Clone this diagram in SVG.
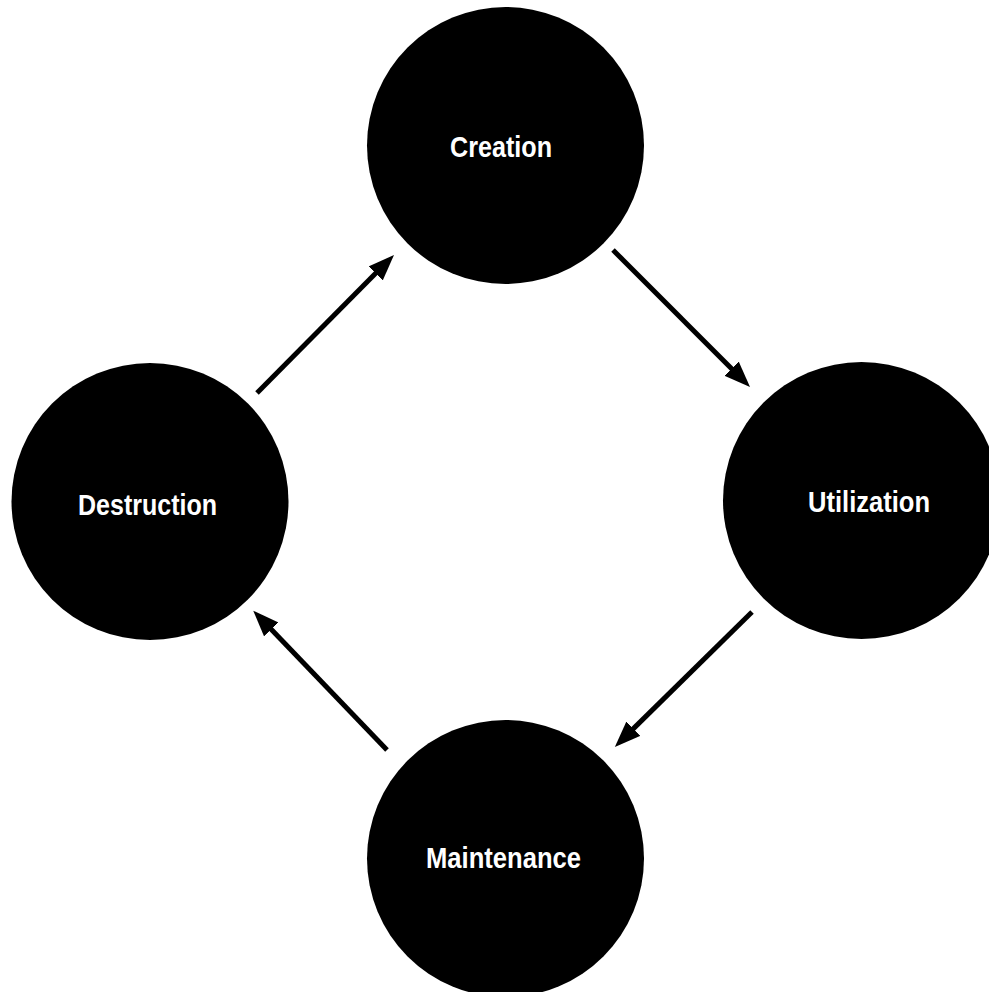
<svg xmlns="http://www.w3.org/2000/svg" width="989" height="992" viewBox="0 0 989 992">
  <style>
    .node circle { fill: #000; }
    .node text { fill: #fff; font-family: "Liberation Sans Narrow", "Liberation Sans", "DejaVu Sans Condensed", sans-serif; font-weight: bold; font-size: 30px; text-anchor: middle; }
    .edge { stroke: #000; stroke-width: 5; fill: none; marker-end: url(#arrow); }
  </style>
  <defs>
    <marker id="arrow" markerUnits="userSpaceOnUse" markerWidth="26" markerHeight="20" viewBox="0 0 26 20" refX="6" refY="10" orient="auto">
      <path d="M0,0 L26,10 L0,20 Z" fill="#000"/>
    </marker>
  </defs>
  <rect width="989" height="992" fill="#fff"/>
  <g id="connectors">
    <line class="edge" x1="613" y1="250" x2="735.9" y2="372.9"/>
    <line class="edge" x1="752" y1="612" x2="629.1" y2="732.9"/>
    <line class="edge" x1="387" y1="750" x2="267.1" y2="625.1"/>
    <line class="edge" x1="257" y1="393" x2="379.9" y2="269.1"/>
  </g>
  <g id="creation" class="node">
    <circle cx="505.5" cy="145.5" r="138.5"/>
    <text x="501" y="157" textLength="102" lengthAdjust="spacingAndGlyphs">Creation</text>
  </g>
  <g id="utilization" class="node">
    <circle cx="861.5" cy="500.5" r="138.5"/>
    <text x="869" y="512" textLength="122" lengthAdjust="spacingAndGlyphs">Utilization</text>
  </g>
  <g id="maintenance" class="node">
    <circle cx="505.5" cy="858.5" r="138.5"/>
    <text x="503.5" y="868" textLength="155" lengthAdjust="spacingAndGlyphs">Maintenance</text>
  </g>
  <g id="destruction" class="node">
    <circle cx="150" cy="501.5" r="138.5"/>
    <text x="147.5" y="515" textLength="139" lengthAdjust="spacingAndGlyphs">Destruction</text>
  </g>
</svg>
